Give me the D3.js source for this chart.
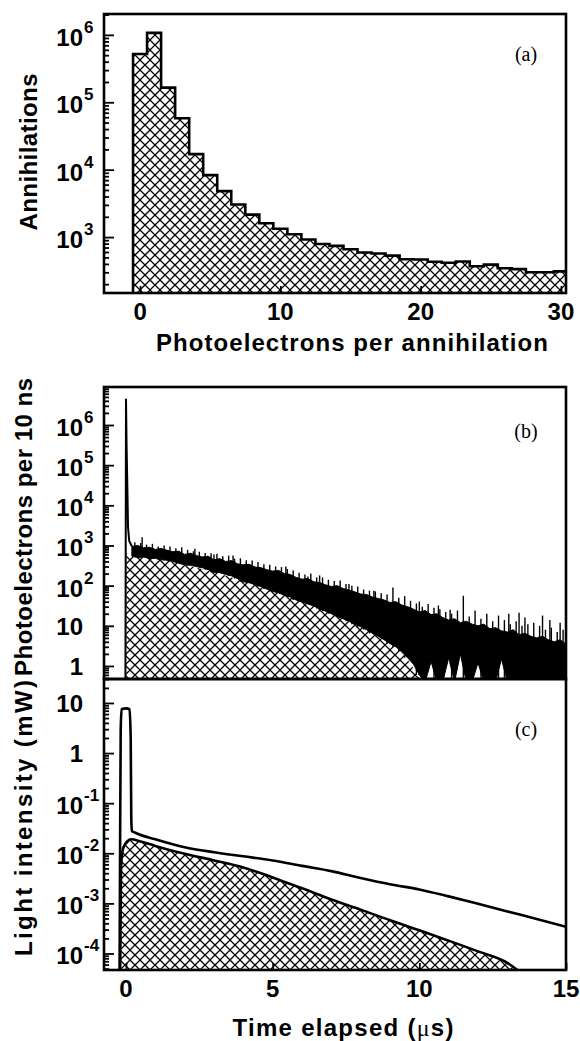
<!DOCTYPE html>
<html>
<head>
<meta charset="utf-8">
<script src="https://cdn.jsdelivr.net/npm/d3@7"></script>
<style>
  body { margin: 0; background: #fff; }
  text { font-family: "Liberation Sans", Arial, sans-serif; font-weight: bold; fill: #000; }
</style>
</head>
<body>
<svg id="fig" width="580" height="1041"></svg>
<script>
// ---- (a) histogram: annihilations vs photoelectrons ----
const peBins = [0,1,2,3,4,5,6,7,8,9,10,11,12,13,14,15,16,17,18,19,20,21,22,23,24,25,26,27,28,29,30];
const annihilations = [520000,1070000,165000,58000,17000,8300,4800,3050,2150,1600,1330,1100,920,790,740,660,590,570,530,470,465,430,415,435,370,390,345,335,300,300,310];
const aXTicks = [0, 10, 20, 30];
const aYTicks = [1e3, 1e4, 1e5, 1e6];
const aYBase = ['10','10','10','10'];
const aYExp = ['3','4','5','6'];

// ---- (b) photoelectrons per 10 ns vs time ----
// prompt peak at t = 0
const peakTimes = [-0.02, 0, 0.02, 0.04, 0.07, 0.11, 0.2];
const peakCounts = [0.3, 4.5e6, 3e5, 5e4, 2800, 1300, 950];
// noisy trace: upper and lower edge of the dense band
const bandTimes = [0.2,0.4,0.6,0.8,1.0,1.2,1.4,1.6,1.8,2.0,2.2,2.4,2.6,2.8,3.0,3.2,3.4,3.6,3.8,4.0,4.2,4.4,4.6,4.8,5.0,5.2,5.4,5.6,5.8,6.0,6.2,6.4,6.6,6.8,7.0,7.2,7.4,7.6,7.8,8.0,8.2,8.4,8.6,8.8,9.0,9.2,9.4,9.6,9.8,10.0,10.2,10.4,10.6,10.8,11.0,11.2,11.4,11.6,11.8,12.0,12.2,12.4,12.6,12.8,13.0,13.2,13.4,13.6,13.8,14.0,14.2,14.4,14.6,14.8,15.0];
const bandHigh = [950,1000,880,900,800,840,760,700,720,600,640,560,520,540,440,470,400,420,350,330,340,290,280,250,230,240,200,190,160,145,150,125,120,105,95,100,85,78,70,62,60,52,48,44,38,40,33,30,26,22,24,19,20,16,14,15,12,13,11,10,11,8.5,9,7.5,7,8,6,6.5,5.5,5,5.5,4.5,4,4.5,3.5];
const bandLow = [540,500,520,470,480,440,430,400,360,330,320,300,280,250,215,210,190,175,150,125,118,105,95,82,72,66,58,52,44,39,35,31,27,23,20,17,15,13,11,9.5,8,6.5,5.5,4.5,3.6,3,2.3,1.6,1.1,0.6,0.4,1.3,0.4,0.4,1.6,0.4,2,0.4,0.4,1.2,0.4,0.4,0.4,1.5,0.4,0.4,0.4,0.4,0.4,0.4,0.4,0.4,0.4,0.4,0.4];
// upward noise spikes on top of the band
const noiseTimes = [0.55,1.3,2.35,3.0,3.65,4.3,4.9,5.45,6.2,6.6,7.1,7.6,8.1,8.45,9.1,9.5,10.0,10.3,10.65,11.05,11.5,11.9,12.3,12.7,13.05,13.4,13.6,13.9,14.2,14.45,14.8,
  0.3,0.5,0.7,0.9,1.1,1.5,1.7,1.9,2.1,2.3,2.5,2.7,2.9,3.1,3.3,3.5,3.7,3.9,4.1,4.5,4.7,5.1,5.3,5.5,5.7,5.9,6.1,6.3,6.5,6.7,6.9,7.3,7.5,7.7,7.9,8.3,8.5,8.7,8.9,9.3,9.7,9.9,10.1,10.5,10.7,10.9,11.1,11.3,11.7,12.1,12.5,12.9,13.1,13.3,13.5,13.7,14.1,14.3,14.5,14.7,14.9];
const noiseCounts = [1600,1000,830,600,560,420,330,300,170,180,130,110,80,75,90,55,40,35,32,25,56,24,20,18,20,21,16,12,18,14,12,
  1200,1150,1050,1100,950,950,850,900,780,720,700,650,640,620,540,560,470,480,430,390,340,300,290,260,240,210,190,200,160,160,140,135,110,100,95,75,72,65,60,50,42,36,30,28,26,22,20,24,17,15,13,14,11,13,10,11,10,8,9,7,8];
// fitted slow component (hatched)
const bFitTimes = [0, 1, 2, 3, 4, 5, 6, 7, 8, 9, 9.5, 10, 10.3];
const bFitCounts = [630, 480, 330, 215, 130, 75, 42, 22, 10.5, 4, 1.8, 0.5, 0.2];
const bYTicks = [1, 10, 100, 1e3, 1e4, 1e5, 1e6];
const bYBase = ['1','10','10','10','10','10','10'];
const bYExp = ['','','2','3','4','5','6'];

// ---- (c) light intensity vs time ----
const totalTimes = [-0.22,-0.2,-0.18,-0.15,0,0.12,0.16,0.18,0.2,0.3,1,2,3,4,5,6,7,8,9,10,11,12,13,14,15];
const totalPower = [3e-5,0.02,3,7.5,7.8,7.5,2,0.05,0.028,0.026,0.019,0.0132,0.0105,0.0087,0.0072,0.0056,0.0044,0.0032,0.0024,0.0019,0.00138,0.00098,0.00069,0.00049,0.00034];
const fitTimes = [-0.2,-0.17,-0.12,-0.05,0.05,0.17,0.5,1,2,3,4,5,6,7,8,9,10,11,12,13,13.4];
const fitPower = [3e-5,0.005,0.011,0.0145,0.0175,0.019,0.0172,0.014,0.0098,0.0072,0.0052,0.0033,0.002,0.0012,0.00075,0.00046,0.00029,0.00018,0.00011,0.000065,0.000044];
const cXTicks = [0, 5, 10, 15];
const cYTicks = [1e-4, 1e-3, 1e-2, 1e-1, 1, 10];
const cYBase = ['10','10','10','10','1','10'];
const cYExp = ['-4','-3','-2','-1','',''];

// layout
const FRAME_L = 104, FRAME_R = 566;
const A = {top: 14, bottom: 293};
const B = {top: 387, bottom: 679};
const C = {top: 679, bottom: 970};

const svg = d3.select('#fig');
svg.append('rect').attr('width', 580).attr('height', 1041).attr('fill', '#fff');

const defs = svg.append('defs');
defs.append('pattern').attr('id', 'xhatch')
    .attr('patternUnits', 'userSpaceOnUse')
    .attr('width', 10).attr('height', 10)
  .append('path')
    .attr('d', 'M-2,-2L12,12M12,-2L-2,12')
    .attr('stroke', '#000').attr('stroke-width', 1.25);

[['clipA', A], ['clipB', B], ['clipC', C]].forEach(([id, p]) => {
  defs.append('clipPath').attr('id', id).append('rect')
    .attr('x', FRAME_L).attr('y', p.top)
    .attr('width', FRAME_R - FRAME_L).attr('height', p.bottom - p.top);
});

// scales
const xA = d3.scaleLinear().domain([-2.57, 30.36]).range([FRAME_L, FRAME_R]);
const xT = d3.scaleLinear().domain([-0.75, 15.0]).range([FRAME_L, FRAME_R]);
const yA = d3.scaleLog().domain([148, 2.04e6]).range([A.bottom, A.top]);
const yB = d3.scaleLog().domain([0.474, 8.83e6]).range([B.bottom, B.top]);
const yC = d3.scaleLog().domain([4.68e-5, 30.1]).range([C.bottom, C.top]);

// ---------- panel (a) ----------
const gA = svg.append('g').attr('clip-path', 'url(#clipA)');
const histPts = peBins.map((b, i) => ({x: b - 0.5, v: annihilations[i]}));
histPts.push({x: peBins[peBins.length - 1] + 0.5, v: annihilations[annihilations.length - 1]});
const aMin = yA.domain()[0];

gA.append('path')
  .attr('d', d3.area().curve(d3.curveStepAfter)
    .x(d => xA(d.x)).y0(yA(aMin)).y1(d => yA(d.v))(histPts))
  .attr('fill', 'url(#xhatch)');

gA.append('path')
  .attr('d', d3.line().curve(d3.curveStepAfter)
    .x(d => xA(d.x)).y(d => yA(d.v))([{x: histPts[0].x, v: aMin}].concat(histPts)))
  .attr('fill', 'none').attr('stroke', '#000').attr('stroke-width', 2.6);

// ---------- panel (b) ----------
const gB = svg.append('g').attr('clip-path', 'url(#clipB)');
const bMin = yB.domain()[0];

gB.append('path')
  .attr('d', d3.area().curve(d3.curveMonotoneX)
    .x((d, i) => xT(bFitTimes[i])).y0(yB(bMin)).y1(d => yB(d))(bFitCounts))
  .attr('fill', 'url(#xhatch)');

gB.append('path')
  .attr('d', d3.area()
    .x((d, i) => xT(bandTimes[i]))
    .y0((d, i) => yB(bandLow[i]))
    .y1(d => yB(d))(bandHigh))
  .attr('fill', '#000').attr('stroke', '#000').attr('stroke-width', 1);

gB.selectAll('line.spike').data(noiseTimes).enter().append('line')
  .attr('class', 'spike')
  .attr('x1', d => xT(d)).attr('x2', d => xT(d))
  .attr('y1', (d, i) => yB(noiseCounts[i]))
  .attr('y2', d => yB(bandLow[d3.bisectCenter(bandTimes, d)]))
  .attr('stroke', '#000').attr('stroke-width', 1.4);

gB.append('path')
  .attr('d', d3.line().x((d, i) => xT(peakTimes[i])).y(d => yB(d))(peakCounts))
  .attr('fill', 'none').attr('stroke', '#000').attr('stroke-width', 2);

// ---------- panel (c) ----------
const gC = svg.append('g').attr('clip-path', 'url(#clipC)');
const cMin = yC.domain()[0];

gC.append('path')
  .attr('d', d3.area().curve(d3.curveMonotoneX)
    .x((d, i) => xT(fitTimes[i])).y0(yC(cMin)).y1(d => yC(d))(fitPower))
  .attr('fill', 'url(#xhatch)');

gC.append('path')
  .attr('d', d3.line().curve(d3.curveMonotoneX)
    .x((d, i) => xT(fitTimes[i])).y(d => yC(d))(fitPower))
  .attr('fill', 'none').attr('stroke', '#000').attr('stroke-width', 2.6);

gC.append('path')
  .attr('d', d3.line().curve(d3.curveMonotoneX)
    .x((d, i) => xT(totalTimes[i])).y(d => yC(d))(totalPower))
  .attr('fill', 'none').attr('stroke', '#000').attr('stroke-width', 2.6);

// ---------- axes ----------
function logTicks(y) {
  const ticks = y.ticks(40);
  const isMajor = v => Math.abs(Math.log10(v) - Math.round(Math.log10(v))) < 1e-6;
  const g = svg.append('g').attr('transform', `translate(${FRAME_L},0)`);
  g.append('g').call(d3.axisRight(y).tickValues(ticks.filter(v => !isMajor(v))).tickSize(5).tickFormat(''));
  g.append('g').call(d3.axisRight(y).tickValues(ticks.filter(isMajor)).tickSize(10).tickFormat(''));
  g.selectAll('.domain').remove();
  g.selectAll('line').attr('stroke', '#000').attr('stroke-width', 1.8);
}
logTicks(yA); logTicks(yB); logTicks(yC);

function xTicks(x, vals, bottom) {
  const g = svg.append('g').attr('transform', `translate(0,${bottom})`);
  g.call(d3.axisTop(x).tickValues(vals).tickSize(7).tickFormat(''));
  g.selectAll('.domain').remove();
  g.selectAll('line').attr('stroke', '#000').attr('stroke-width', 1.8);
  svg.append('g').selectAll('text').data(vals).enter().append('text')
    .attr('x', d => x(d)).attr('y', bottom + 27)
    .attr('text-anchor', 'middle').attr('font-size', 24)
    .text(d => d);
}
xTicks(xA, aXTicks, A.bottom);
xTicks(xT, cXTicks, C.bottom);

function yLabels(y, vals, bases, exps) {
  const g = svg.append('g');
  vals.forEach((v, i) => {
    const ty = y(v);
    const sup = exps[i] !== '';
    g.append('text').attr('x', 83).attr('y', ty + (sup ? 11 : 9))
      .attr('text-anchor', 'end').attr('font-size', 24).text(bases[i]);
    if (sup) {
      g.append('text').attr('x', 84).attr('y', ty - 2)
        .attr('font-size', 17).text(exps[i]);
    }
  });
}
yLabels(yA, aYTicks, aYBase, aYExp);
yLabels(yB, bYTicks, bYBase, bYExp);
yLabels(yC, cYTicks, cYBase, cYExp);

// frames
[A, B, C].forEach(p => {
  svg.append('rect')
    .attr('x', FRAME_L).attr('y', p.top)
    .attr('width', FRAME_R - FRAME_L).attr('height', p.bottom - p.top)
    .attr('fill', 'none').attr('stroke', '#000').attr('stroke-width', 2.6);
});

// panel tags
[['(a)', 61], ['(b)', 438], ['(c)', 736]].forEach(([t, y]) => {
  svg.append('text').attr('x', 526).attr('y', y).attr('text-anchor', 'middle')
    .style('font-family', '"Liberation Serif", "Times New Roman", serif')
    .style('font-weight', 'normal').attr('font-size', 20).text(t);
});

// axis titles
function yTitle(label, cx, cy, len) {
  svg.append('text')
    .attr('transform', `translate(${cx},${cy}) rotate(-90)`)
    .attr('text-anchor', 'middle').attr('font-size', 24)
    .attr('textLength', len).attr('lengthAdjust', 'spacing')
    .text(label);
}
yTitle('Annihilations', 37, 152, 157);
yTitle('Photoelectrons per 10 ns', 32, 527, 298);
yTitle('Light intensity (mW)', 32, 818, 276);

svg.append('text').attr('x', 352).attr('y', 351).attr('text-anchor', 'middle')
  .attr('font-size', 24).attr('textLength', 392).attr('lengthAdjust', 'spacing')
  .text('Photoelectrons per annihilation');

const tt = svg.append('text').attr('x', 343).attr('y', 1036).attr('text-anchor', 'middle')
  .attr('font-size', 24).attr('textLength', 221).attr('lengthAdjust', 'spacing');
tt.append('tspan').text('Time elapsed (');
tt.append('tspan').style('font-family', '"Liberation Serif", serif').style('font-weight', 'normal').text('\u03bc');
tt.append('tspan').text('s)');
</script>
</body>
</html>
